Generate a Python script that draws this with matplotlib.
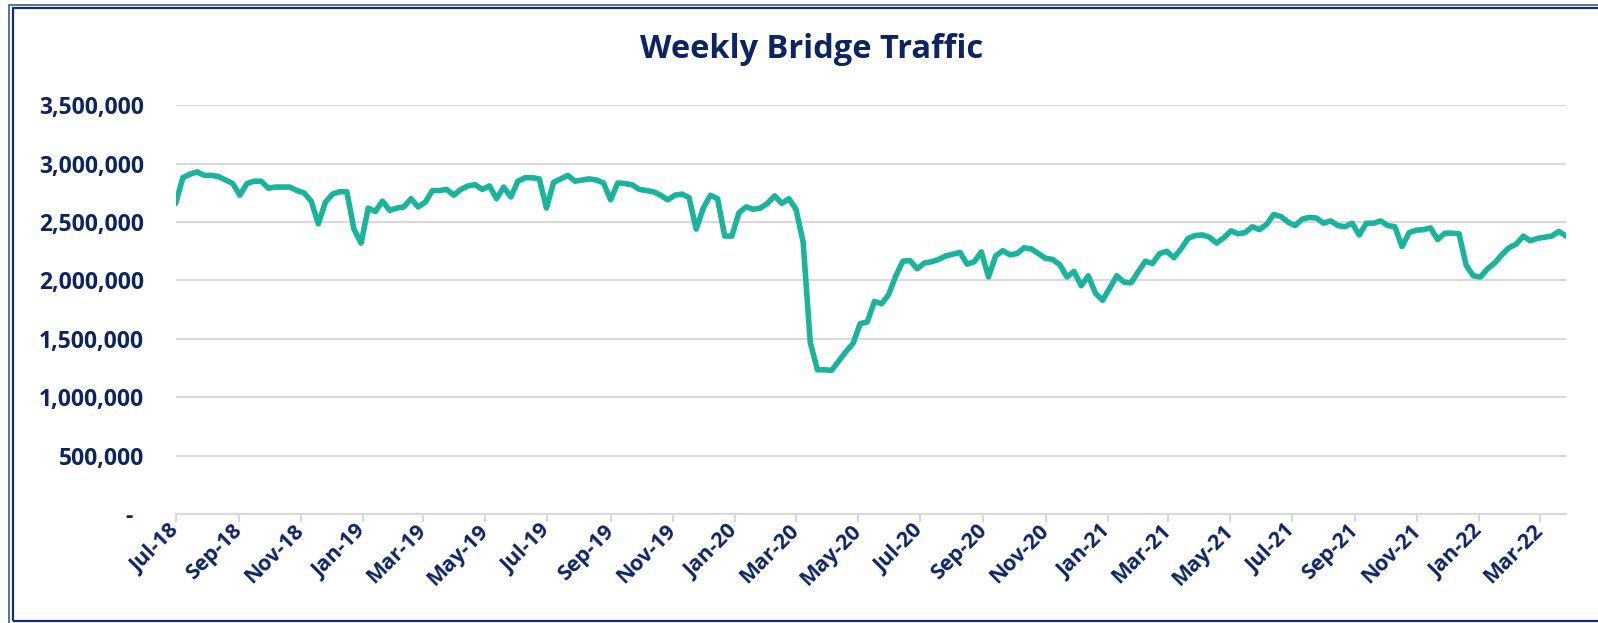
import matplotlib
matplotlib.use("Agg")
import matplotlib.pyplot as plt
import matplotlib.dates as mdates
import matplotlib.ticker as mticker
from matplotlib.patches import Rectangle
from matplotlib.transforms import ScaledTranslation
import pandas as pd

# -- data: weekly crossings (thousands), week starting 2018-07-01 --
start_date = "2018-07-01"
traffic_k = [
    2660, 2880, 2910, 2930, 2900, 2900, 2890, 2860, 2830, 2730,
    2830, 2850, 2850, 2790, 2800, 2800, 2800, 2770, 2750, 2680,
    2485, 2670, 2740, 2760, 2760, 2440, 2320, 2620, 2590, 2680,
    2600, 2620, 2630, 2700, 2630, 2670, 2770, 2770, 2780, 2730,
    2780, 2810, 2820, 2780, 2810, 2700, 2800, 2715, 2850, 2880,
    2880, 2870, 2620, 2840, 2870, 2900, 2850, 2860, 2870, 2860,
    2835, 2690, 2835, 2830, 2820, 2780, 2770, 2760, 2730, 2690,
    2730, 2740, 2710, 2440, 2620, 2730, 2700, 2380, 2380, 2580,
    2630, 2610, 2620, 2660, 2725, 2660, 2700, 2610, 2330, 1470,
    1235, 1235, 1230, 1310, 1390, 1460, 1630, 1645, 1820, 1800,
    1880, 2040, 2165, 2170, 2100, 2150, 2160, 2180, 2210, 2225,
    2240, 2140, 2160, 2245, 2030, 2210, 2255, 2220, 2230, 2280,
    2270, 2230, 2190, 2180, 2135, 2030, 2077, 1955, 2040, 1890,
    1830, 1935, 2040, 1985, 1980, 2075, 2165, 2145, 2230, 2250,
    2195, 2270, 2360, 2385, 2390, 2370, 2320, 2365, 2425, 2400,
    2410, 2460, 2435, 2480, 2565, 2548, 2500, 2470, 2525, 2540,
    2535, 2490, 2510, 2470, 2460, 2490, 2390, 2490, 2490, 2510,
    2470, 2460, 2290, 2410, 2430, 2435, 2450, 2350, 2405, 2405,
    2400, 2130, 2040, 2030, 2100, 2150, 2220, 2280, 2310, 2380,
    2340, 2360, 2370, 2380, 2420, 2380,
]
y_ticks = [0, 500000, 1000000, 1500000, 2000000, 2500000, 3000000, 3500000]
title = "Weekly Bridge Traffic"

NAVY = "#0C2461"
TEAL = "#1AB39C"
GRID = "#D9D9D9"
FONT = ["Open Sans", "DejaVu Sans"]

weeks = pd.date_range(start_date, periods=len(traffic_k), freq="7D")
values = [v * 1000 for v in traffic_k]

plt.rcParams["font.family"] = FONT
W, H = 1598, 623
fig = plt.figure(figsize=(W / 100, H / 100), dpi=100)
ax = fig.add_axes([175.7 / W, 1 - 514 / H, (1566 - 175.7) / W, (514 - 105.3) / H])

ax.plot(weeks, values, color=TEAL, linewidth=4.0, solid_joinstyle="round",
        solid_capstyle="round", zorder=3)

# -- axes styling --
ax.set_xlim(weeks[0], weeks[-1])
ax.set_ylim(0, 3500000)
ax.set_yticks(y_ticks)
ax.yaxis.set_major_formatter(mticker.FuncFormatter(
    lambda v, _: "-" if v == 0 else f"{v:,.0f}"))
ax.grid(axis="y", color=GRID, linewidth=1.5)
ax.set_axisbelow(True)

ax.xaxis.set_major_locator(mdates.MonthLocator(bymonth=[1, 3, 5, 7, 9, 11]))
ax.xaxis.set_major_formatter(mdates.DateFormatter("%b-%y"))

for side in ("top", "right", "left"):
    ax.spines[side].set_visible(False)
ax.spines["bottom"].set_color(GRID)
ax.spines["bottom"].set_linewidth(1.5)

ax.tick_params(axis="y", length=0, pad=23, labelsize=16.5, labelcolor=NAVY)
ax.tick_params(axis="x", length=6, width=1.5, color=GRID, pad=4,
               labelsize=15.5, labelcolor=NAVY)
for lbl in ax.get_yticklabels():
    lbl.set_fontweight("bold")
    if lbl.get_text() == "-":
        lbl.set_transform(lbl.get_transform() +
                          ScaledTranslation(-11 / 100, 0, fig.dpi_scale_trans))
for lbl in ax.get_xticklabels():
    lbl.set_fontweight("bold")
    lbl.set_rotation(45)
    lbl.set_ha("right")
    lbl.set_va("center")
    lbl.set_rotation_mode("anchor")

fig.text(812 / W, 1 - 49 / H, title, ha="center", va="center",
         fontsize=23.5, fontweight="bold", color=NAVY)

# -- double frame round the chart area (right side runs off the image) --
fig.patches.append(Rectangle((8.5 / W, 1 - 640 / H), 1700 / W, (640 - 4.5) / H,
                             transform=fig.transFigure, fill=False,
                             edgecolor="#3B5A9A", linewidth=1.2))
fig.patches.append(Rectangle((12.5 / W, 1 - 620.5 / H), 1700 / W, (620.5 - 8) / H,
                             transform=fig.transFigure, fill=False,
                             edgecolor="#132F6E", linewidth=1.6))

fig.savefig("out.png", dpi=100)
plt.close(fig)
